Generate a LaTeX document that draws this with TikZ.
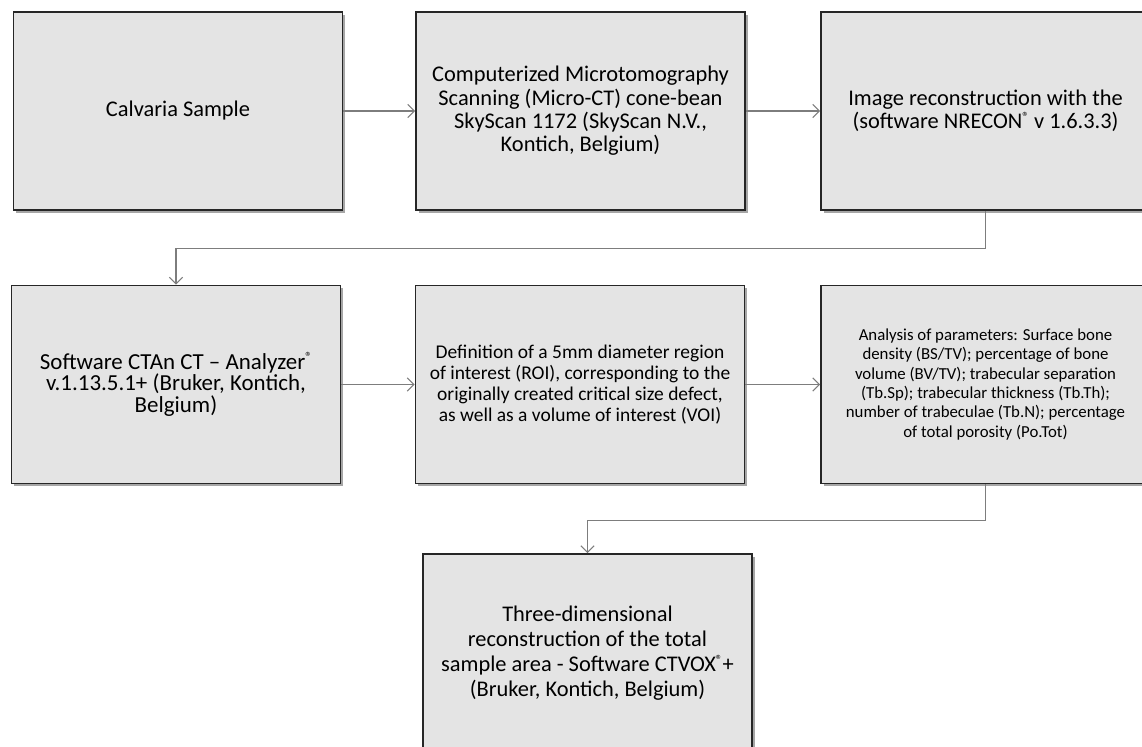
\documentclass[tikz,border=0pt]{standalone}
\usepackage{fontspec}
\setmainfont{Carlito}
\usepackage{tikz}
\usetikzlibrary{arrows.meta, positioning, shadows}
\usepackage{xcolor}
\definecolor{boxgray}{RGB}{228,228,228}
\definecolor{edgegray}{RGB}{38,38,38}
\definecolor{linegray}{RGB}{125,125,125}
\newcommand{\regmark}{\raisebox{0.32em}{\fontsize{10}{10}\selectfont ®}}
\tikzset{
  stagebox/.style={draw=edgegray, line width=1.3pt, fill=boxgray,
    minimum width=246.75pt, minimum height=148.5pt, inner sep=0pt, align=center,
    font=\fontsize{16.8}{17.5}\selectfont,
    drop shadow={shadow xshift=2pt, shadow yshift=-2pt, fill=black, opacity=0.35}},
  flowarrow/.style={draw=linegray, line width=0.8pt,
    -{Straight Barb[length=5pt, width=10pt, line width=0.8pt]}}
}
\begin{document}
\begin{tikzpicture}[x=0.75pt, y=-0.75pt]
    \useasboundingbox (0,0) rectangle (1142,746);
    % first row
    \node[stagebox] (calvaria) at (178,111) {Calvaria Sample};
    \node[stagebox] (microct) at (580.5,111) {Computerized Microtomography\\Scanning (Micro-CT) cone-bean\\SkyScan 1172 (SkyScan N.V.,\\Kontich, Belgium)};
    \node[stagebox] (nrecon) at (985.5,111) {Image reconstruction with the\\(software NRECON\regmark{} v 1.6.3.3)};
    % second row
    \node[stagebox, font=\fontsize{17.2}{16.3}\selectfont] (ctan) at (176,384.5) {Software CTAn CT -- Analyzer\regmark\\v.1.13.5.1+ (Bruker, Kontich,\\Belgium)};
    \node[stagebox, font=\fontsize{14.6}{15.8}\selectfont] (roi) at (580,384.5) {Definition of a 5mm diameter region\\of interest (ROI), corresponding to the\\originally created critical size defect,\\as well as a volume of interest (VOI)};
    \node[stagebox, font=\fontsize{12.6}{14.5}\selectfont] (params) at (985.5,384.5) {Analysis of parameters: Surface bone\\density (BS/TV); percentage of bone\\volume (BV/TV); trabecular separation\\(Tb.Sp); trabecular thickness (Tb.Th);\\number of trabeculae (Tb.N); percentage\\of total porosity (Po.Tot)};
    % last step
    \node[stagebox, font=\fontsize{16.8}{18.8}\selectfont] (ctvox) at (587.5,653) {Three-dimensional\\reconstruction of the total\\sample area - Software CTVOX\regmark+\\(Bruker, Kontich, Belgium)};
    % connectors
    \draw[flowarrow] (calvaria) -- (microct);
    \draw[flowarrow] (microct) -- (nrecon);
    \draw[flowarrow] (nrecon.south) -- ++(0,38) -| (ctan.north);
    \draw[flowarrow] (ctan) -- (roi);
    \draw[flowarrow] (roi) -- (params);
    \draw[flowarrow] (params.south) -- ++(0,36) -| (ctvox.north);
  \end{tikzpicture}
\end{document}
